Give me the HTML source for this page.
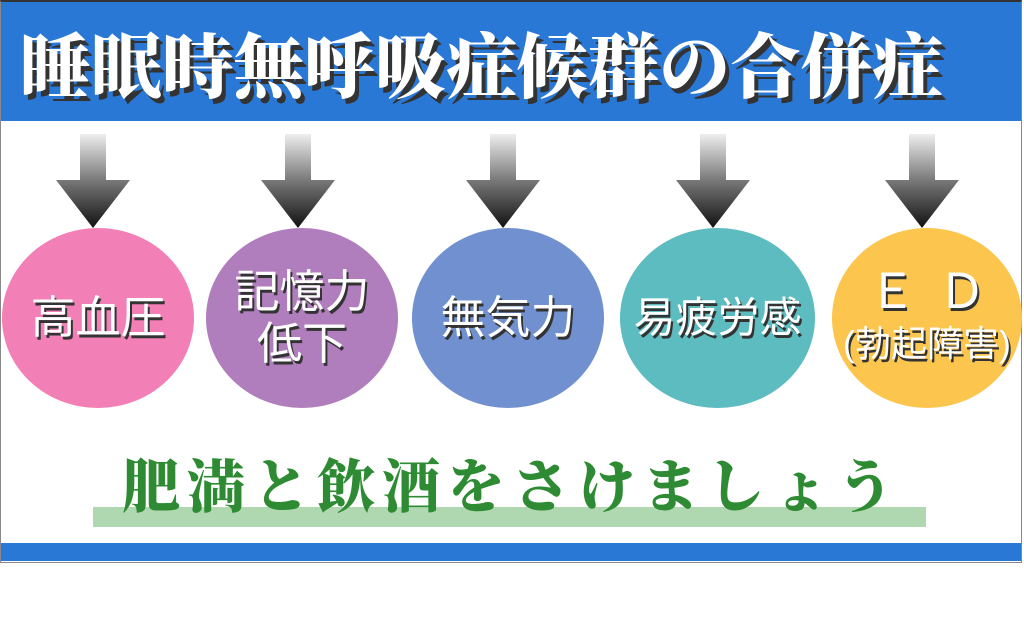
<!DOCTYPE html>
<html><head><meta charset="utf-8"><style>
body{margin:0;width:1024px;height:623px;background:#fff;position:relative;overflow:hidden;font-family:"Liberation Sans","Noto Sans CJK JP",sans-serif}
.frame{position:absolute;left:0;top:0;width:1020px;height:560px;border:1px solid #888;border-top:2px solid #333;}
.hdr{position:absolute;left:1px;top:2px;width:1020px;height:119px;background:#2a78d6}
.title{position:absolute;left:20px;top:18px;font-family:"Noto Serif CJK SC","Noto Serif CJK JP",serif;font-weight:900;font-size:71px;line-height:88px;color:#fff;text-shadow:4px 5px 0 #333;white-space:nowrap;letter-spacing:0px}
.bot{position:absolute;left:1px;top:543px;width:1020px;height:18px;background:#2a78d6}
.arrow{position:absolute;top:134px;width:74px;height:94px}
.c{position:absolute;top:228px;width:192px;height:180px;border-radius:50%;display:flex;align-items:center;justify-content:center;text-align:center;color:#fff;font-size:45px;line-height:52px;text-shadow:2px 3px 0 #333}
.g{position:absolute;left:93px;top:507px;width:833px;height:20px;background:#b0d8b0}
.gt{position:absolute;left:122px;top:446px;font-family:"Noto Serif CJK JP","Noto Serif CJK SC",serif;font-weight:900;font-size:58px;line-height:72px;color:#2e8b34;white-space:nowrap;letter-spacing:7px}
</style></head><body>
<div class="frame"></div>
<div class="hdr"></div>
<div class="title">睡眠時無呼吸症候群の合併症</div>
<svg width="0" height="0" style="position:absolute"><defs><linearGradient id="ag" x1="0" y1="0" x2="0" y2="1"><stop offset="0" stop-color="#eee"/><stop offset="0.5" stop-color="#777"/><stop offset="1" stop-color="#111"/></linearGradient></defs></svg>
<svg class="arrow" style="left:56px" viewBox="0 0 74 94"><polygon points="24,0 50,0 50,46 74,46 37,94 0,46 24,46" fill="url(#ag)"/></svg>
<svg class="arrow" style="left:261px" viewBox="0 0 74 94"><polygon points="24,0 50,0 50,46 74,46 37,94 0,46 24,46" fill="url(#ag)"/></svg>
<svg class="arrow" style="left:466px" viewBox="0 0 74 94"><polygon points="24,0 50,0 50,46 74,46 37,94 0,46 24,46" fill="url(#ag)"/></svg>
<svg class="arrow" style="left:676px" viewBox="0 0 74 94"><polygon points="24,0 50,0 50,46 74,46 37,94 0,46 24,46" fill="url(#ag)"/></svg>
<svg class="arrow" style="left:885px" viewBox="0 0 74 94"><polygon points="24,0 50,0 50,46 74,46 37,94 0,46 24,46" fill="url(#ag)"/></svg>
<div class="c" style="left:2px;background:#f27fb6">高血圧</div>
<div class="c" style="left:206px;background:#b07dbd">記憶力<br>低下</div>
<div class="c" style="left:412px;background:#7090d0">無気力</div>
<div class="c" style="left:620px;width:195px;background:#5cbcc0;font-size:42px">易疲労感</div>
<div class="c" style="left:832px;width:190px;background:#fbc54e;font-size:36px;line-height:48px"><div><span style="font-size:48px;letter-spacing:22px;padding-left:22px">ＥＤ</span><br>(勃起障害)</div></div>
<div class="g"></div>
<div class="gt">肥満と飲酒をさけましょう</div>
<div class="bot"></div>
</body></html>
